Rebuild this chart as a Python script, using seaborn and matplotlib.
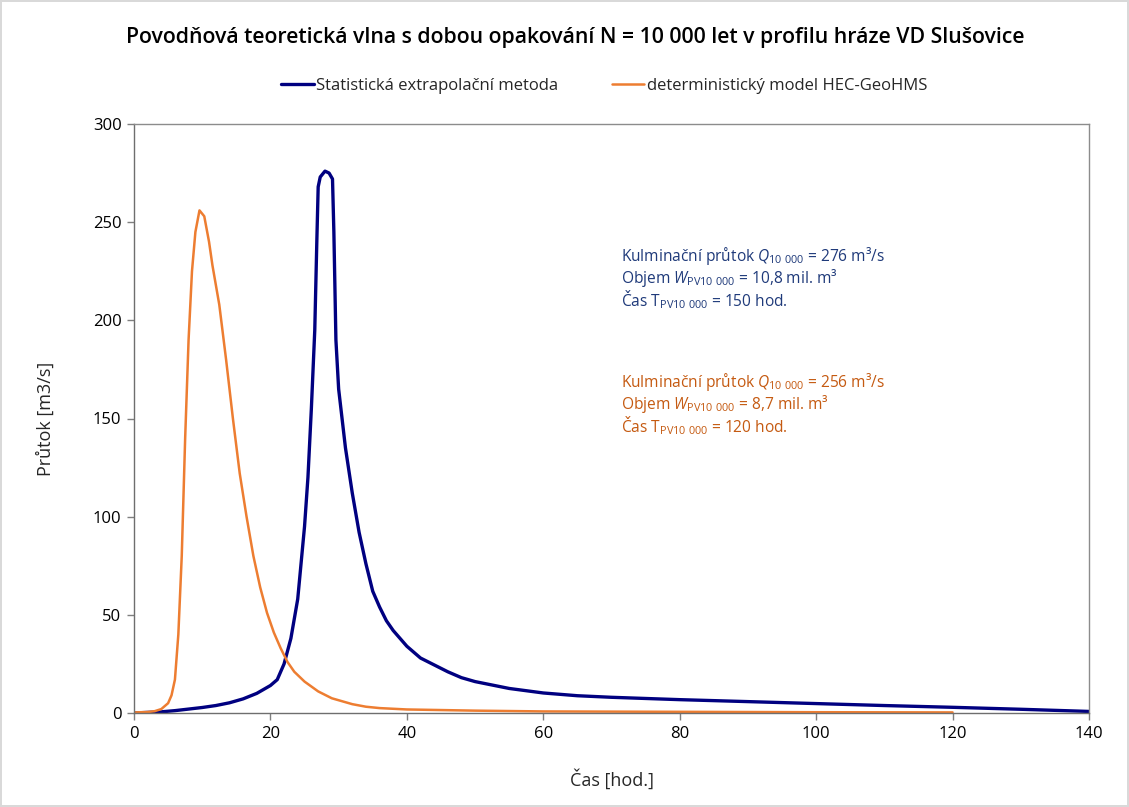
import matplotlib
matplotlib.use("Agg")
import matplotlib.pyplot as plt
import seaborn as sns
import pandas as pd
import numpy as np

# --- data (hours, m3/s) ---
stat_t = [0, 2, 4, 6, 8, 10, 12, 14, 16, 18, 20, 21, 22, 23, 24, 25, 25.5, 26, 26.5, 26.8, 27.0,
          27.3, 28.0, 28.6, 29.1, 29.3, 29.6, 30, 31, 32, 33, 34, 35, 36, 37, 38, 40, 42, 44, 46,
          48, 50, 55, 60, 65, 70, 80, 90, 100, 110, 120, 130, 140]
stat_q = [0, 0.3, 0.6, 1.2, 2.0, 2.8, 3.8, 5.2, 7.2, 10, 14, 17, 25, 38, 58, 95, 120, 155, 195, 240, 268,
          273, 276, 275, 272, 245, 190, 165, 135, 112, 92, 76, 62, 54, 47, 42, 34, 28, 24.5, 21,
          18, 16, 12.5, 10.2, 8.8, 8.0, 6.8, 5.8, 4.8, 3.8, 2.9, 1.9, 0.8]

det_t = [0, 2, 3, 4, 5, 5.5, 6, 6.5, 7, 7.5, 8, 8.5, 9, 9.6, 10.3, 11, 11.5, 12.5, 13.5, 14.5,
         15.5, 16.5, 17.5, 18.5, 19.5, 20.5, 21.5, 22.5, 23.5, 25, 27, 29, 30, 32, 34, 36, 40,
         45, 50, 60, 80, 100, 120]
det_q = [0.3, 0.5, 0.9, 2, 5, 9, 17, 40, 80, 140, 190, 225, 245, 256, 253, 240, 228, 208, 180, 150,
         122, 100, 80, 64, 51, 41, 33, 26, 21, 16, 11, 7.5, 6.5, 4.5, 3.2, 2.5, 1.8,
         1.5, 1.2, 0.8, 0.6, 0.4, 0.3]

series_names = ["Statistická extrapolační metoda", "deterministický model HEC-GeoHMS"]
title = "Povodňová teoretická vlna s dobou opakování N = 10 000 let v profilu hráze VD Slušovice"
xlabel = "Čas [hod.]"
ylabel = "Průtok [m3/s]"
x_ticks = [0, 20, 40, 60, 80, 100, 120, 140]
y_ticks = [0, 50, 100, 150, 200, 250, 300]

ann_stat = ["Kulminační průtok $\\mathit{Q}_{\\mathregular{10\\ 000}}$ = 276 m³/s",
            "Objem $\\mathit{W}_{\\mathregular{PV10\\ 000}}$ = 10,8 mil. m³",
            "Čas T$_{\\mathregular{PV10\\ 000}}$ = 150 hod."]
ann_det = ["Kulminační průtok $\\mathit{Q}_{\\mathregular{10\\ 000}}$ = 256 m³/s",
           "Objem $\\mathit{W}_{\\mathregular{PV10\\ 000}}$ = 8,7 mil. m³",
           "Čas T$_{\\mathregular{PV10\\ 000}}$ = 120 hod."]

df = pd.concat([
    pd.DataFrame({"t": stat_t, "q": stat_q, "s": series_names[0]}),
    pd.DataFrame({"t": det_t, "q": det_q, "s": series_names[1]}),
])

sns.set_theme(style="white")
plt.rcParams["font.family"] = ["Open Sans", "DejaVu Sans"]
plt.rcParams["mathtext.fontset"] = "custom"
plt.rcParams["mathtext.rm"] = "Open Sans"
plt.rcParams["mathtext.it"] = "Open Sans:italic"

BLUE = "#000080"
ORANGE = "#ED7D31"

fig = plt.figure(figsize=(11.29, 8.07), dpi=100)
fig.patch.set_edgecolor("#d9d9d9")
fig.patch.set_linewidth(1.5)
ax = fig.add_axes([134/1129, 1-713/807, (1089-134)/1129, (713-124)/807])

sns.lineplot(data=df, x="t", y="q", hue="s", palette=[BLUE, ORANGE], ax=ax,
             sort=False, estimator=None, legend=False)
lines = ax.get_lines()
lines[0].set_linewidth(2.4)
lines[1].set_linewidth(1.8)

ax.set_xlim(0, 140)
ax.set_ylim(0, 300)
ax.set_xticks(x_ticks)
ax.set_yticks(y_ticks)
ax.tick_params(axis="both", labelsize=12, colors="#000000", length=5, width=1,
               direction="out", bottom=True, left=True, pad=4)
ax.tick_params(axis="both", color="#7f7f7f")
for sp in ax.spines.values():
    sp.set_color("#8c8c8c")
    sp.set_linewidth(1)
ax.spines["left"].set_color("#6e6e6e")
ax.spines["bottom"].set_color("#6e6e6e")

ax.set_xlabel(xlabel, fontsize=13, labelpad=20)
ax.set_ylabel(ylabel, fontsize=13, labelpad=27)

fig.text(575/1129, 1-37/807, title, ha="center", va="center", fontsize=15.3,
         fontweight="semibold", color="black")

fig.legend(handles=lines, labels=series_names, loc="center", bbox_to_anchor=(604/1129, 1-86/807),
           ncol=2, frameon=False, fontsize=12, handlelength=1.95, handletextpad=0.15,
           columnspacing=3.2)

for i, s in enumerate(ann_stat):
    ax.text(621, 256 + i*22, s, transform=None, fontsize=11.2, color="#1F3A7A", va="center")
for i, s in enumerate(ann_det):
    ax.text(621, 382 + i*22, s, transform=None, fontsize=11.2, color="#C55A11", va="center")

# text placed in pixel coordinates (top-origin) -> convert
for t in ax.texts:
    x, y = t.get_position()
    t.set_transform(fig.transFigure)
    t.set_position((x/1129, 1 - y/807))

fig.savefig("out.png", dpi=100)
